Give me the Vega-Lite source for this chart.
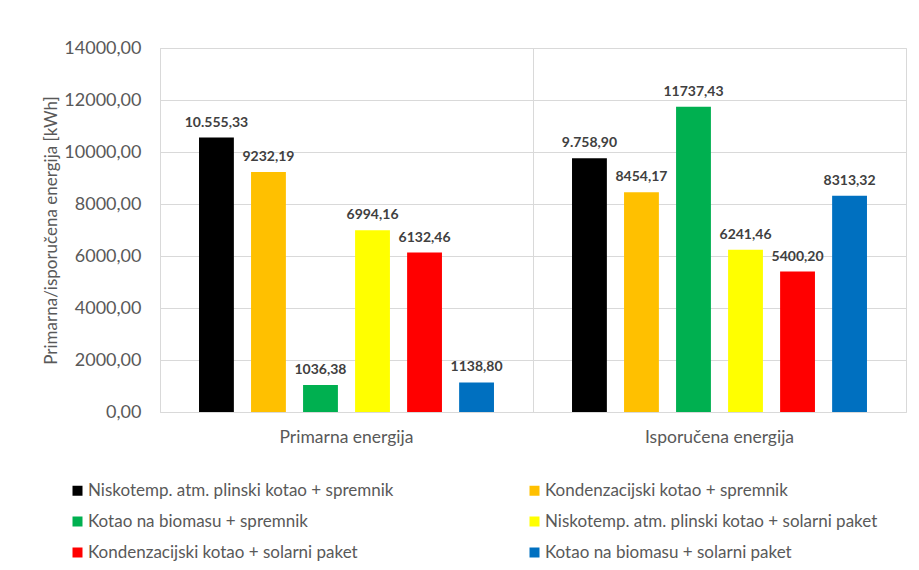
{
  "$schema": "https://vega.github.io/schema/vega-lite/v6.json",
  "width": 746,
  "height": 364,
  "autosize": {"type": "none"},
  "padding": {"left": 160, "top": 48, "right": 13, "bottom": 158},
  "background": "white",
  "config": {
    "view": {"stroke": "#d9d9d9", "strokeWidth": 1},
    "font": "Lato"
  },
  "data": {
    "values": [
      {"group": "Primarna energija", "series": "Niskotemp. atm. plinski kotao + spremnik", "value": 10555.33, "label": "10.555,33"},
      {"group": "Primarna energija", "series": "Kondenzacijski kotao + spremnik", "value": 9232.19, "label": "9232,19"},
      {"group": "Primarna energija", "series": "Kotao na biomasu + spremnik", "value": 1036.38, "label": "1036,38"},
      {"group": "Primarna energija", "series": "Niskotemp. atm. plinski kotao + solarni paket", "value": 6994.16, "label": "6994,16"},
      {"group": "Primarna energija", "series": "Kondenzacijski kotao + solarni paket", "value": 6132.46, "label": "6132,46"},
      {"group": "Primarna energija", "series": "Kotao na biomasu + solarni paket", "value": 1138.80, "label": "1138,80"},
      {"group": "Isporučena energija", "series": "Niskotemp. atm. plinski kotao + spremnik", "value": 9758.90, "label": "9.758,90"},
      {"group": "Isporučena energija", "series": "Kondenzacijski kotao + spremnik", "value": 8454.17, "label": "8454,17"},
      {"group": "Isporučena energija", "series": "Kotao na biomasu + spremnik", "value": 11737.43, "label": "11737,43"},
      {"group": "Isporučena energija", "series": "Niskotemp. atm. plinski kotao + solarni paket", "value": 6241.46, "label": "6241,46"},
      {"group": "Isporučena energija", "series": "Kondenzacijski kotao + solarni paket", "value": 5400.20, "label": "5400,20"},
      {"group": "Isporučena energija", "series": "Kotao na biomasu + solarni paket", "value": 8313.32, "label": "8313,32"}
    ]
  },
  "encoding": {
    "x": {
      "field": "group",
      "type": "nominal",
      "sort": ["Primarna energija", "Isporučena energija"],
      "scale": {"paddingInner": 0, "paddingOuter": 0},
      "axis": {
        "title": null,
        "labelAngle": 0,
        "labelFontSize": 17.5,
        "labelColor": "#595959",
        "labelPadding": 16,
        "ticks": false,
        "domain": false,
        "grid": true,
        "bandPosition": 0,
        "gridColor": "#d9d9d9"
      }
    },
    "xOffset": {
      "field": "series",
      "type": "nominal",
      "sort": [
        "Niskotemp. atm. plinski kotao + spremnik",
        "Kondenzacijski kotao + spremnik",
        "Kotao na biomasu + spremnik",
        "Niskotemp. atm. plinski kotao + solarni paket",
        "Kondenzacijski kotao + solarni paket",
        "Kotao na biomasu + solarni paket"
      ],
      "scale": {"paddingInner": 0.33, "paddingOuter": 0.75}
    },
    "y": {
      "field": "value",
      "type": "quantitative",
      "scale": {"domain": [0, 14000], "nice": false},
      "axis": {
        "title": "Primarna/isporučena energija [kWh]",
        "titleFontSize": 17,
        "titleFontWeight": "normal",
        "titleColor": "#595959",
        "titlePadding": 3,
        "values": [0, 2000, 4000, 6000, 8000, 10000, 12000, 14000],
        "labelExpr": "replace(format(datum.value, '.2f'), '.', ',')",
        "labelFontSize": 18,
        "labelColor": "#595959",
        "labelPadding": 19,
        "ticks": false,
        "domain": false,
        "gridColor": "#d9d9d9"
      }
    }
  },
  "layer": [
    {
      "mark": {"type": "bar"},
      "encoding": {
        "color": {
          "field": "series",
          "type": "nominal",
          "sort": [
            "Niskotemp. atm. plinski kotao + spremnik",
            "Kondenzacijski kotao + spremnik",
            "Kotao na biomasu + spremnik",
            "Niskotemp. atm. plinski kotao + solarni paket",
            "Kondenzacijski kotao + solarni paket",
            "Kotao na biomasu + solarni paket"
          ],
          "scale": {"range": ["#000000", "#FFC000", "#00B050", "#FFFF00", "#FF0000", "#0070C0"]},
          "legend": {
            "title": null,
            "orient": "none",
            "legendX": -91,
            "legendY": 434,
            "columns": 2,
            "direction": "horizontal",
            "columnPadding": 132,
            "rowPadding": 13,
            "symbolType": "square",
            "symbolSize": 100,
            "symbolStrokeWidth": 0,
            "labelFontSize": 17,
            "labelColor": "#595959",
            "labelOffset": 2,
            "labelLimit": 500
          }
        }
      }
    },
    {
      "mark": {"type": "text", "baseline": "middle", "dy": -15, "fontSize": 14, "fontWeight": "bold", "color": "#404040"},
      "encoding": {"text": {"field": "label"}}
    }
  ]
}
